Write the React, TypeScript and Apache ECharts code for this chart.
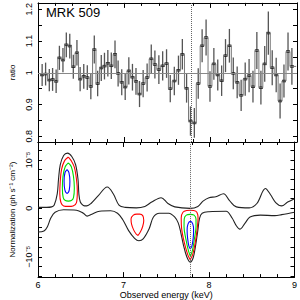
import React, { useEffect, useRef } from "react";
import * as echarts from "echarts";

// ---- top panel: data/model ratio (bin centres in keV) ----
const energy = [
  6.048, 6.088, 6.131, 6.169, 6.210, 6.248, 6.289, 6.328, 6.368, 6.409, 6.451,
  6.488, 6.530, 6.571, 6.612, 6.652, 6.691, 6.733, 6.770, 6.809, 6.849, 6.892, 6.928, 6.970,
  7.010, 7.052, 7.094, 7.135, 7.176, 7.218, 7.264, 7.312, 7.354, 7.400, 7.444, 7.489,
  7.532, 7.579, 7.627, 7.672, 7.721, 7.766, 7.811, 7.856, 7.901, 7.947, 7.992,
  8.037, 8.082, 8.127, 8.172, 8.217, 8.262, 8.307, 8.353, 8.400, 8.445, 8.490,
  8.535, 8.582, 8.626, 8.668, 8.713, 8.759, 8.804, 8.849, 8.896, 8.941,
];
const ratio = [
  0.993, 0.996, 0.977, 0.979, 0.973, 1.047, 1.040, 1.088, 1.084, 1.019, 1.063,
  0.980, 0.989, 0.985, 0.957, 1.073, 0.966, 1.015, 1.021, 1.030, 1.022, 1.058, 0.998, 0.970,
  0.955, 1.006, 0.986, 0.973, 0.933, 0.966, 0.985, 1.044, 1.026, 1.010, 1.022, 1.029,
  0.950, 0.974, 1.008, 1.058, 0.951, 0.848, 0.842, 0.966, 1.085, 1.111, 0.957,
  1.028, 0.993, 0.975, 1.054, 1.085, 0.998, 0.970, 0.929, 0.980, 0.991, 0.956,
  1.070, 0.953, 1.028, 1.125, 1.016, 0.993, 0.911, 0.974, 1.067, 1.020,
];
const ratioErr = [
  0.035, 0.036, 0.035, 0.036, 0.037, 0.038, 0.038, 0.039, 0.039, 0.038, 0.040,
  0.038, 0.039, 0.039, 0.040, 0.044, 0.040, 0.041, 0.042, 0.042, 0.042, 0.044, 0.041, 0.041,
  0.041, 0.043, 0.042, 0.042, 0.041, 0.043, 0.044, 0.045, 0.044, 0.045, 0.046, 0.045,
  0.043, 0.045, 0.046, 0.048, 0.045, 0.046, 0.047, 0.048, 0.052, 0.057, 0.048,
  0.050, 0.049, 0.048, 0.052, 0.053, 0.050, 0.050, 0.049, 0.052, 0.052, 0.050,
  0.058, 0.053, 0.056, 0.068, 0.055, 0.054, 0.055, 0.052, 0.060, 0.058,
];
const firstEdge = 6.03;
const lastEdge = 8.99;
const lineEnergy = 7.78;

const ratioTicks = [0.8, 0.85, 0.9, 0.95, 1.0, 1.05, 1.1, 1.15, 1.2];
const ratioLabels = [0.8, 0.9, 1.0, 1.1, 1.2];
// ---- bottom panel: normalization in units of 1e-5 ph/s/cm2 ----
const normTicks = [-1.4, -1.2, -1.0, -0.8, -0.6, -0.4, -0.2, 0, 0.2, 0.4, 0.6, 0.8, 1.0, 1.2];
const normLabels = [-1, 0, 1];

const upperContour = [
  [6.0, 0.02], [6.1, 0.02], [6.16, 0.03], [6.19, 0.07], [6.225, 0.3], [6.24, 0.6], [6.26, 0.9],
  [6.3, 1.09], [6.345, 1.14], [6.395, 1.07], [6.44, 0.9], [6.468, 0.6], [6.478, 0.3], [6.495, 0.13],
  [6.53, 0.06], [6.57, 0.05], [6.62, 0.1], [6.7, 0.25], [6.81, 0.44], [6.88, 0.3], [6.95, 0.06],
  [7.02, 0.02], [7.15, 0.01], [7.25, 0.04], [7.33, 0.13], [7.44, 0.22], [7.52, 0.1], [7.6, 0.03],
  [7.78, 0.0], [7.87, 0.04], [7.93, 0.15], [8.0, 0.22], [8.08, 0.24], [8.17, 0.3], [8.24, 0.16],
  [8.32, 0.03], [8.47, 0.01], [8.56, 0.1], [8.66, 0.41], [8.72, 0.28], [8.78, 0.12], [8.85, 0.05],
  [8.92, 0.13], [9.0, 0.2],
];
const lowerContour = [
  [6.0, -0.49], [6.07, -0.47], [6.11, -0.38], [6.15, -0.2], [6.2, -0.08], [6.3, -0.03],
  [6.45, -0.04], [6.53, -0.1], [6.575, -0.16], [6.63, -0.12], [6.72, -0.06], [6.85, -0.05],
  [6.93, -0.1], [6.99, -0.23], [7.06, -0.46], [7.13, -0.62], [7.18, -0.67], [7.23, -0.63],
  [7.3, -0.42], [7.35, -0.18], [7.42, -0.1], [7.53, -0.1], [7.6, -0.18], [7.64, -0.3],
  [7.67, -0.5], [7.7, -0.75], [7.74, -1.0], [7.78, -1.11], [7.815, -1.02], [7.845, -0.75],
  [7.87, -0.45], [7.89, -0.2], [7.92, -0.1], [8.0, -0.07], [8.2, -0.06], [8.27, -0.2],
  [8.32, -0.36], [8.36, -0.43], [8.42, -0.31], [8.48, -0.18], [8.6, -0.14], [8.77, -0.15],
  [8.85, -0.13], [9.0, -0.08],
];
const red635 = [
  [6.355, 1.06], [6.39, 0.98], [6.425, 0.85], [6.45, 0.6], [6.46, 0.35], [6.45, 0.12], [6.41, 0.05],
  [6.355, 0.04], [6.3, 0.05], [6.268, 0.12], [6.255, 0.3], [6.26, 0.55], [6.275, 0.8], [6.31, 0.98],
  [6.355, 1.06],
];
const green635 = [
  [6.355, 0.94], [6.39, 0.86], [6.415, 0.66], [6.425, 0.42], [6.415, 0.22], [6.39, 0.16],
  [6.355, 0.15], [6.32, 0.16], [6.295, 0.22], [6.285, 0.42], [6.292, 0.66], [6.318, 0.86],
  [6.355, 0.94],
];
const blue635 = [
  [6.34, 0.8], [6.362, 0.74], [6.373, 0.56], [6.366, 0.38], [6.34, 0.31], [6.314, 0.38],
  [6.305, 0.56], [6.316, 0.74], [6.34, 0.8],
];
const red717 = [
  [7.17, -0.56], [7.2, -0.48], [7.225, -0.37], [7.237, -0.25], [7.225, -0.15], [7.19, -0.12],
  [7.155, -0.12], [7.115, -0.14], [7.088, -0.22], [7.095, -0.33], [7.12, -0.45], [7.148, -0.53],
  [7.17, -0.56],
];
const red778 = [
  [7.78, -1.06], [7.81, -0.95], [7.84, -0.7], [7.862, -0.42], [7.872, -0.2], [7.858, -0.08],
  [7.82, -0.045], [7.78, -0.04], [7.74, -0.045], [7.695, -0.08], [7.675, -0.2], [7.68, -0.42],
  [7.71, -0.7], [7.75, -0.95], [7.78, -1.06],
];
const green778 = [
  [7.782, -0.99], [7.805, -0.88], [7.83, -0.62], [7.848, -0.38], [7.848, -0.22], [7.825, -0.14],
  [7.78, -0.125], [7.735, -0.14], [7.71, -0.22], [7.708, -0.38], [7.728, -0.62], [7.76, -0.88],
  [7.782, -0.99],
];
const blue778 = [
  [7.782, -0.84], [7.8, -0.78], [7.815, -0.62], [7.82, -0.45], [7.81, -0.32], [7.782, -0.27],
  [7.755, -0.32], [7.744, -0.45], [7.75, -0.62], [7.765, -0.78], [7.782, -0.84],
];

const FONT = "'Liberation Sans', Arial, Helvetica, sans-serif";

function xAxisCfg(grid: number, pos: "top" | "bottom", labels: boolean) {
  return {
    type: "value",
    gridIndex: grid,
    position: pos,
    min: 6,
    max: 9,
    interval: 1,
    axisLine: { show: true, onZero: false, lineStyle: { color: "#000", width: 1 } },
    axisTick: { show: true, inside: true, length: 5, lineStyle: { color: "#000" } },
    minorTick: { show: true, splitNumber: 5, length: 3, lineStyle: { color: "#000" } },
    splitLine: { show: false },
    minorSplitLine: { show: false },
    axisLabel: { show: labels, fontSize: 9, color: "#000", margin: 3 },
    name: labels ? "Observed energy (keV)" : "",
    nameLocation: "middle",
    nameGap: 11,
    nameTextStyle: { fontSize: 9, color: "#000" },
  };
}

function yAxisCfg(grid: number, pos: "left" | "right", min: number, max: number, ticks: number[], labelVals: number[], fmt: (v: number) => string, name: string, labels: boolean) {
  return {
    type: "value",
    gridIndex: grid,
    position: pos,
    min,
    max,
    axisLine: { show: true, onZero: false, lineStyle: { color: "#000", width: 1 } },
    axisTick: { show: true, inside: true, length: 4, customValues: ticks, lineStyle: { color: "#000" } },
    splitLine: { show: false },
    axisLabel: { show: labels, customValues: labelVals, rotate: 90, fontSize: 9, color: "#000", margin: 5, formatter: fmt },
    name: labels ? name : "",
    nameLocation: "middle",
    nameRotate: 90,
    nameGap: 22,
    nameTextStyle: { fontSize: 8, color: "#000" },
  };
}

function contour(data: number[][], color: string, width = 1.1) {
  return {
    type: "line",
    xAxisIndex: 2,
    yAxisIndex: 2,
    data,
    smooth: 0.35,
    showSymbol: false,
    symbol: "none",
    lineStyle: { color, width },
    silent: true,
  };
}

export default function App() {
  const ref = useRef<HTMLDivElement>(null);
  useEffect(() => {
    if (!ref.current) return;
    const chart = echarts.init(ref.current, null, { renderer: "svg" });
    const stepData = [[firstEdge, ratio[0]], ...energy.map((e, i) => [e, ratio[i]]), [lastEdge, ratio[ratio.length - 1]]];
    const errData = energy.map((e, i) => [e, ratio[i] - ratioErr[i], ratio[i] + ratioErr[i]]);
    const ptData = energy.map((e, i) => [e, ratio[i]]);
    const ratioFmt = (v: number) => (Math.abs(v - 1) < 1e-9 ? "1" : v.toFixed(1));
    const normFmt = (v: number) => (Math.abs(v) < 1e-9 ? "0" : v > 0 ? "10⁻⁵" : "−10⁻⁵");
    const vline = { xAxis: lineEnergy, lineStyle: { type: "dotted", color: "#666", width: 1 } };
    chart.setOption({
      animation: false,
      textStyle: { fontFamily: FONT },
      grid: [
        { left: 31, right: 3, top: 0, height: 142 },
        { left: 31, right: 3, top: 142, height: 142 },
      ],
      xAxis: [
        xAxisCfg(0, "bottom", false),
        xAxisCfg(0, "top", false),
        xAxisCfg(1, "bottom", true),
        xAxisCfg(1, "top", false),
      ],
      yAxis: [
        yAxisCfg(0, "left", 0.782, 1.22, ratioTicks, ratioLabels, ratioFmt, "ratio", true),
        yAxisCfg(0, "right", 0.782, 1.22, ratioTicks, ratioLabels, ratioFmt, "", false),
        yAxisCfg(1, "left", -1.42, 1.37, normTicks, normLabels, normFmt, "Normalization (ph s⁻¹ cm⁻²)", true),
        yAxisCfg(1, "right", -1.42, 1.37, normTicks, normLabels, normFmt, "", false),
      ],
      graphic: [
        {
          type: "text",
          left: 46,
          top: 6,
          style: { text: "MRK 509", fontSize: 13, fontFamily: FONT, fill: "#000" },
        },
      ],
      series: [
        {
          type: "line",
          xAxisIndex: 0,
          yAxisIndex: 0,
          data: stepData,
          step: "middle",
          showSymbol: false,
          symbol: "none",
          lineStyle: { color: "#777", width: 1 },
          markLine: {
            silent: true,
            symbol: "none",
            label: { show: false },
            data: [{ yAxis: 1, lineStyle: { type: "solid", color: "#888", width: 1 } }, vline],
          },
        },
        {
          type: "custom",
          xAxisIndex: 0,
          yAxisIndex: 0,
          data: errData,
          encode: { x: 0, y: [1, 2] },
          clip: true,
          renderItem: (params: any, api: any) => {
            const x = api.value(0);
            const p1 = api.coord([x, api.value(1)]);
            const p2 = api.coord([x, api.value(2)]);
            return {
              type: "line",
              shape: { x1: p1[0], y1: p1[1], x2: p2[0], y2: p2[1] },
              style: { stroke: "#555", lineWidth: 1.3 },
            };
          },
        },
        {
          type: "scatter",
          xAxisIndex: 0,
          yAxisIndex: 0,
          data: ptData,
          symbol: "rect",
          symbolSize: [4, 2.5],
          itemStyle: { color: "#000" },
        },
        {
          ...contour(upperContour, "#222", 1.1),
          markLine: { silent: true, symbol: "none", label: { show: false }, data: [vline] },
        },
        contour(lowerContour, "#222", 1.1),
        contour(red635, "#ff0000"),
        contour(green635, "#00dd00"),
        contour(blue635, "#0000ff"),
        contour(red717, "#ff0000"),
        contour(red778, "#ff0000"),
        contour(green778, "#00dd00"),
        contour(blue778, "#0000ff"),
      ],
    });
    return () => chart.dispose();
  }, []);
  return <div ref={ref} style={{ position: "fixed", left: 0, top: 0, width: 300, height: 300, background: "#fff" }} />;
}
